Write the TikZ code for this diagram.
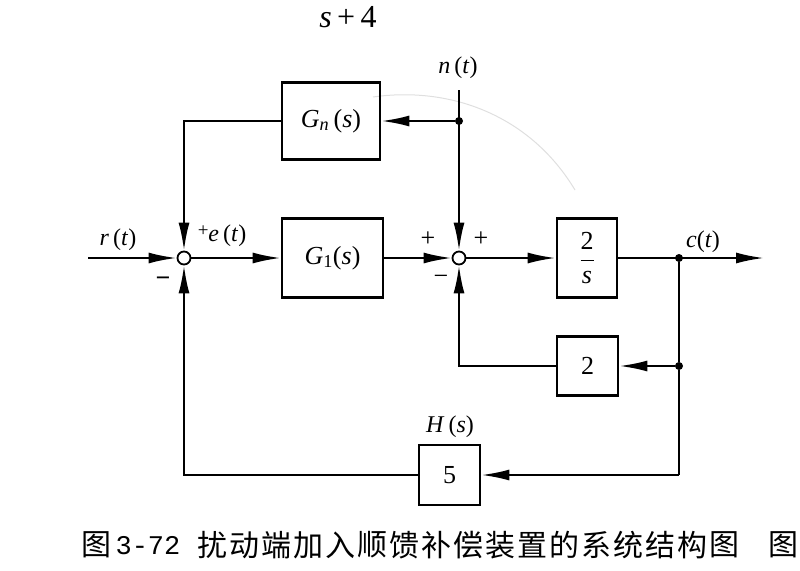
\documentclass[tikz,border=0pt]{standalone}
\usepackage{fontspec}
\setmainfont{Liberation Serif}
\newfontfamily\cjk{Noto Sans CJK SC}
\newfontfamily\monof{Liberation Mono}
\usetikzlibrary{arrows.meta}
\begin{document}
\begin{tikzpicture}[x=1pt,y=-1pt,
  blk/.style={draw,line width=2.6pt,inner sep=0pt,font=\fontsize{26}{26}\selectfont},
  sumc/.style={draw,circle,line width=1.8pt,minimum size=13pt,inner sep=0pt,fill=white},
  sig/.style={line width=2.2pt},
  arr/.style={sig,-{Latex[length=28pt,width=11pt]}},
  lbl/.style={inner sep=0pt,font=\fontsize{24}{24}\selectfont},
  sgn/.style={inner sep=0pt,font=\fontsize{26}{26}\selectfont},
  dotn/.style={circle,fill,inner sep=0pt,minimum size=8pt},
  capc/.style={inner sep=0pt,font=\cjk\fontsize{30}{30}\selectfont}]
\useasboundingbox (0,0) rectangle (800,570);

% scan mark
\draw[gray!25,line width=1pt] (373,97) .. controls (450,86) and (530,115) .. (575,190);

% blocks
\node[blk,minimum width=101pt,minimum height=79pt] (G1) at (332.5,258) {\textit{G}\textsubscript{1}(\textit{s})};
\node[blk,minimum width=98pt,minimum height=77pt] (Gn) at (331,121) {\textit{G\textsubscript{n}}\,(\textit{s})};
\node[blk,minimum width=60pt,minimum height=79pt] (P) at (587,258) {$\displaystyle\frac{\mbox{2}}{\mbox{\itshape s}}$};
\node[blk,minimum width=61pt,minimum height=59pt] (K2) at (587.5,366) {2};
\node[blk,minimum width=61pt,minimum height=60pt] (H5) at (449.5,475) {5};

% summing junctions
\node[sumc] (s1) at (184,258) {};
\node[sumc] (s2) at (459,258) {};

% points
\coordinate (rin) at (88,258);
\coordinate (ntop) at (459,90);
\node[dotn] (n1) at (459,121) {};
\node[dotn] (cdot) at (679,258) {};
\node[dotn] (kdot) at (679,366) {};
\coordinate (c5) at (679,475);
\coordinate (out) at (764,258);

% connectors
\draw[arr] (rin) -- (s1);
\draw[arr] (s1) -- (G1);
\draw[arr] (G1) -- (s2);
\draw[arr] (s2) -- (P);
\draw[arr] (P) -- (out);
\draw[arr] (ntop) -- (s2);
\draw[arr] (n1) -- (Gn);
\draw[arr] (Gn.west) -| (s1);
\draw[sig] (cdot) -- (kdot) -- (c5);
\draw[arr] (kdot) -- (K2);
\draw[arr] (K2.west) -| (s2);
\draw[arr] (c5) -- (H5);
\draw[arr] (H5.west) -| (s1);

% labels
\node[lbl] (lr) at (118,240) {\textit{r}\,(\textit{t})};
\node[lbl] (le) at (222,236) {\raisebox{5pt}{\fontsize{19}{19}\selectfont+}\textit{e}\,(\textit{t})};
\node[lbl] (ln) at (458,68) {\textit{n}\,(\textit{t})};
\node[lbl] (lc) at (703,242) {\textit{c}(\textit{t})};
\node[lbl] (lh) at (450,427) {\textit{H}\,(\textit{s})};

% signs
\node[sgn] (m1) at (163,282) {\textbf{−}};
\node[sgn] (p2a) at (428,239) {+};
\node[sgn] (p2b) at (481,239) {+};
\node[sgn] (m2) at (441,280) {−};

% top fragment
\node[inner sep=0pt,font=\fontsize{32}{32}\selectfont] (top) at (348,17) {\textit{s}\,+\,4};

% caption
\node[capc] (cap0) at (96,545) {图};
\node[inner sep=0pt,font=\monof\fontsize{27}{27}\selectfont] (cap1) at (148,546) {3-72};
\foreach \c [count=\i from 0] in {扰,动,端,加,入,顺,馈,补,偿,装,置,的,系,统,结,构,图}
  \node[capc] (capw\i) at (212+32*\i,545) {\c};
\node[capc] (capz) at (783,545) {图};
\end{tikzpicture}
\end{document}
